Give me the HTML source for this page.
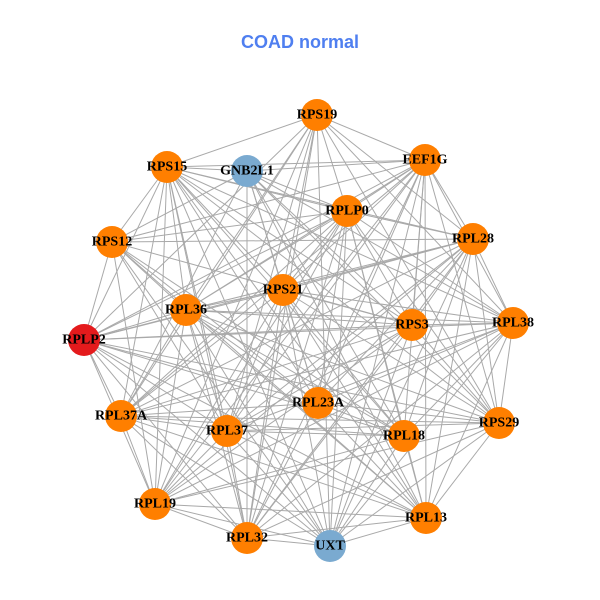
<!DOCTYPE html>
<html><head><meta charset="utf-8"><style>
html,body{margin:0;padding:0;background:#fff;}
svg{display:block;}
.lbl{font-family:"Liberation Serif",serif;font-weight:bold;font-size:14px;fill:#000;text-anchor:middle;dominant-baseline:central;}
</style></head><body>
<svg id="g" width="600" height="600" xmlns="http://www.w3.org/2000/svg">
<text x="300" y="42" font-family="Liberation Sans, sans-serif" font-weight="bold" font-size="18" fill="#4f7ff0" text-anchor="middle" dominant-baseline="central">COAD normal</text>
<g id="edges" stroke="#a9a9a9" stroke-width="1"></g>
<g id="nodes">
<circle cx="317" cy="115" r="16" fill="#ff7f00"/>
<circle cx="425" cy="160" r="16" fill="#ff7f00"/>
<circle cx="167" cy="167" r="16" fill="#ff7f00"/>
<circle cx="247" cy="171" r="16" fill="#7aaad0"/>
<circle cx="347" cy="211" r="16" fill="#ff7f00"/>
<circle cx="473" cy="239" r="16" fill="#ff7f00"/>
<circle cx="112" cy="242" r="16" fill="#ff7f00"/>
<circle cx="283" cy="290" r="16" fill="#ff7f00"/>
<circle cx="186" cy="310" r="16" fill="#ff7f00"/>
<circle cx="412" cy="325" r="16" fill="#ff7f00"/>
<circle cx="513" cy="323" r="16" fill="#ff7f00"/>
<circle cx="84" cy="340" r="16" fill="#e41a1c"/>
<circle cx="318" cy="403" r="16" fill="#ff7f00"/>
<circle cx="121" cy="416" r="16" fill="#ff7f00"/>
<circle cx="227" cy="431" r="16" fill="#ff7f00"/>
<circle cx="404" cy="436" r="16" fill="#ff7f00"/>
<circle cx="499" cy="423" r="16" fill="#ff7f00"/>
<circle cx="155" cy="504" r="16" fill="#ff7f00"/>
<circle cx="426" cy="518" r="16" fill="#ff7f00"/>
<circle cx="247" cy="538" r="16" fill="#ff7f00"/>
<circle cx="330" cy="546" r="16" fill="#7aaad0"/>
</g>
<g>
<text class="lbl" x="317" y="115">RPS19</text>
<text class="lbl" x="425" y="160">EEF1G</text>
<text class="lbl" x="167" y="167">RPS15</text>
<text class="lbl" x="247" y="171">GNB2L1</text>
<text class="lbl" x="347" y="211">RPLP0</text>
<text class="lbl" x="473" y="239">RPL28</text>
<text class="lbl" x="112" y="242">RPS12</text>
<text class="lbl" x="283" y="290">RPS21</text>
<text class="lbl" x="186" y="310">RPL36</text>
<text class="lbl" x="412" y="325">RPS3</text>
<text class="lbl" x="513" y="323">RPL38</text>
<text class="lbl" x="84" y="340">RPLP2</text>
<text class="lbl" x="318" y="403">RPL23A</text>
<text class="lbl" x="121" y="416">RPL37A</text>
<text class="lbl" x="227" y="431">RPL37</text>
<text class="lbl" x="404" y="436">RPL18</text>
<text class="lbl" x="499" y="423">RPS29</text>
<text class="lbl" x="155" y="504">RPL19</text>
<text class="lbl" x="426" y="518">RPL13</text>
<text class="lbl" x="247" y="538">RPL32</text>
<text class="lbl" x="330" y="546">UXT</text>
</g>
</svg>
<script>
var c=document.querySelectorAll('#nodes circle'),p=[];
c.forEach(function(e){p.push([+e.getAttribute('cx'),+e.getAttribute('cy')]);});
var g=document.getElementById('edges'),ns='http://www.w3.org/2000/svg';
for(var i=0;i<p.length;i++)for(var j=i+1;j<p.length;j++){
 if((i*7+j*3)%9==0)continue;
 var l=document.createElementNS(ns,'line');
 l.setAttribute('x1',p[i][0]);l.setAttribute('y1',p[i][1]);
 l.setAttribute('x2',p[j][0]);l.setAttribute('y2',p[j][1]);
 g.appendChild(l);
}
</script>
</body></html>
